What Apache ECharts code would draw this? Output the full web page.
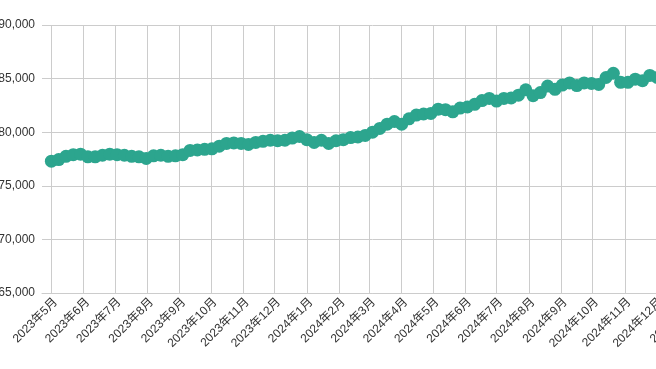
<!DOCTYPE html>
<html>
<head>
<meta charset="utf-8">
<script src="https://cdn.jsdelivr.net/npm/echarts@6/dist/echarts.min.js"></script>
<style>
html,body{margin:0;padding:0;width:656px;height:369px;overflow:hidden;background:#fff;}
#c{position:absolute;left:0;top:0;width:760px;height:369px;}
</style>
</head>
<body>
<div id="c"></div>
<script>
// weekly observation dates (start + 7-day step)
var startDate = '2023-05-01';
var stepDays = 7;
var values = [
 77300, 77450, 77750, 77900, 77950, 77700, 77700, 77850, 77950, 77900,
 77850, 77750, 77700, 77550, 77800, 77850, 77750, 77800, 77900, 78300,
 78350, 78400, 78450, 78700, 78950, 79000, 78950, 78850, 79050, 79150,
 79250, 79200, 79250, 79450, 79600, 79300, 79050, 79250, 78950, 79200,
 79300, 79500, 79550, 79700, 80000, 80350, 80750, 81000, 80750, 81250,
 81600, 81700, 81750, 82150, 82100, 81900, 82250, 82350, 82600, 82950,
 83150, 82900, 83150, 83200, 83450, 83950, 83400, 83700, 84300, 84000,
 84400, 84600, 84350, 84600, 84550, 84450, 85100, 85500, 84650, 84650,
 84950, 84800, 85300, 85100
];
var yTicks = [65000, 70000, 75000, 80000, 85000, 90000];
var xMin = '2023-04-22';
var xMax = '2025-01-15';

var dates = [];
var t0 = Date.parse(startDate + 'T00:00:00Z');
for (var i = 0; i < values.length; i++) {
  var d = new Date(t0 + i * stepDays * 86400000);
  dates.push(d.getUTCFullYear() + '-' + String(d.getUTCMonth() + 1).padStart(2, '0') + '-' + String(d.getUTCDate()).padStart(2, '0'));
}
var data = dates.map(function (d, i) { return [d, values[i]]; });

var chart = echarts.init(document.getElementById('c'), null, {renderer: 'canvas'});
var teal = '#2ca58e';
chart.setOption({
  animation: false,
  grid: {left: 42, top: 25, width: 661, height: 268, containLabel: false, outerBoundsMode: 'none'},
  xAxis: {
    type: 'time',
    min: xMin,
    max: xMax,
    minInterval: 28 * 86400000,
    maxInterval: 31 * 86400000,
    axisLine: {show: true, lineStyle: {color: '#cccccc'}},
    axisTick: {show: false},
    splitLine: {show: true, showMinLine: false, showMaxLine: false, lineStyle: {color: '#cccccc', width: 1}},
    axisLabel: {
      rotate: 45,
      color: '#333',
      fontSize: 12,
      fontFamily: 'Liberation Sans, Arial, Noto Sans CJK JP, sans-serif',
      showMinLabel: false,
      showMaxLabel: false,
      verticalAlign: 'top',
      margin: 3,
      formatter: function (v) {
        var d = new Date(v);
        return d.getFullYear() + '年' + (d.getMonth() + 1) + '月';
      }
    }
  },
  yAxis: {
    type: 'value',
    min: yTicks[0],
    max: yTicks[yTicks.length - 1],
    interval: yTicks[1] - yTicks[0],
    axisLine: {show: false},
    axisTick: {show: false},
    splitLine: {lineStyle: {color: '#cccccc', width: 1}},
    axisLabel: {
      color: '#333',
      fontSize: 12,
      margin: 7,
      fontFamily: 'Liberation Sans, Arial, sans-serif',
      formatter: function (v) { return v.toLocaleString('en-US'); }
    }
  },
  series: [{
    type: 'line',
    data: data,
    symbol: 'circle',
    symbolSize: 13,
    showSymbol: true,
    color: teal,
    itemStyle: {color: teal, borderWidth: 0},
    lineStyle: {color: teal, width: 4}
  }]
});
</script>
</body>
</html>
